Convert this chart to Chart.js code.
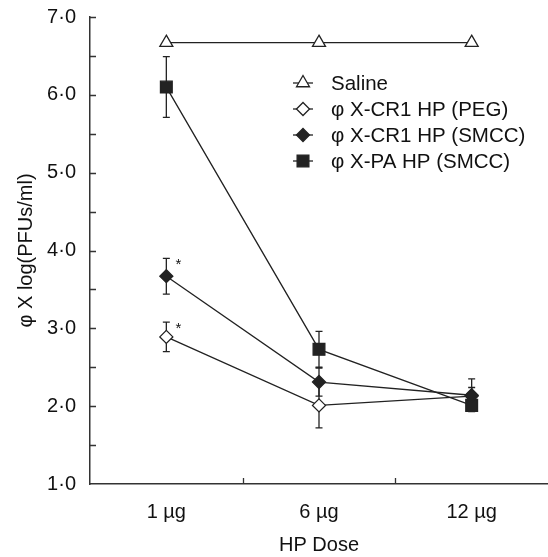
<!DOCTYPE html>
<html>
<head>
<meta charset="utf-8">
<script src="https://cdn.jsdelivr.net/npm/chart.js@4/dist/chart.umd.min.js"></script>
<style>
  html, body { margin: 0; padding: 0; background: #fff; }
</style>
</head>
<body>
<canvas id="myChart" width="548" height="557"></canvas>
<script>
const doses = ['1 µg', '6 µg', '12 µg'];
const seriesNames = ['Saline', 'φ X-CR1 HP (PEG)', 'φ X-CR1 HP (SMCC)', 'φ X-PA HP (SMCC)'];
const saline = [6.67, 6.67, 6.67];
const cr1Peg = [2.89, 2.01, 2.13];
const cr1PegErr = [0.19, 0.29, 0.11];
const cr1Smcc = [3.67, 2.31, 2.14];
const cr1SmccErr = [0.23, 0.18, 0.21];
const paSmcc = [6.10, 2.73, 2.01];
const paSmccErr = [0.39, 0.23, 0.05];
const starredPeg = [true, false, false];
const starredSmcc = [true, false, false];
const yMin = 1;
const yMax = 7;
const yStep = 0.5;

const ink = '#222';
const fontFam = '"Liberation Sans", Arial, sans-serif';

// error bars under the markers
const errorBars = {
    id: 'errorBars',
    beforeDatasetsDraw(chart) {
        const { ctx, scales: { x, y } } = chart;
        ctx.save();
        ctx.strokeStyle = ink;
        ctx.lineWidth = 1.3;
        chart.data.datasets.forEach(ds => {
            if (!ds.errors) return;
            ds.data.forEach((v, j) => {
                const e = ds.errors[j];
                if (!e) return;
                const px = x.getPixelForValue(j);
                const top = y.getPixelForValue(v + e);
                const bot = y.getPixelForValue(v - e);
                ctx.beginPath();
                ctx.moveTo(px, top); ctx.lineTo(px, bot);
                ctx.moveTo(px - 3.5, top); ctx.lineTo(px + 3.5, top);
                ctx.moveTo(px - 3.5, bot); ctx.lineTo(px + 3.5, bot);
                ctx.stroke();
            });
        });
        ctx.restore();
    },
    afterDatasetsDraw(chart) {
        const { ctx, scales: { x, y } } = chart;
        ctx.save();
        ctx.fillStyle = '#111';
        ctx.font = '15px ' + fontFam;
        ctx.textAlign = 'center';
        ctx.textBaseline = 'alphabetic';
        chart.data.datasets.forEach(ds => {
            if (!ds.stars) return;
            ds.stars.forEach((s, j) => {
                if (!s) return;
                const px = x.getPixelForValue(j) + 12;
                const py = y.getPixelForValue(ds.data[j] + ds.errors[j]) + 11;
                ctx.fillText('*', px, py);
            });
        });
        ctx.restore();
    }
};

// inward tick marks
const inTicks = {
    id: 'inTicks',
    afterDraw(chart) {
        const { ctx, chartArea, scales: { x, y } } = chart;
        ctx.save();
        ctx.strokeStyle = '#333';
        ctx.lineWidth = 1.3;
        ctx.beginPath();
        y.ticks.forEach(t => {
            if (t.value === yMin) return;
            const py = Math.round(y.getPixelForValue(t.value)) + 0.5;
            ctx.moveTo(chartArea.left, py);
            ctx.lineTo(chartArea.left + 6, py);
        });
        for (let j = 0; j < doses.length - 1; j++) {
            const px = Math.round((x.getPixelForValue(j) + x.getPixelForValue(j + 1)) / 2) + 0.5;
            ctx.moveTo(px, chartArea.bottom);
            ctx.lineTo(px, chartArea.bottom - 6);
        }
        ctx.stroke();
        ctx.restore();
    }
};

// legend inside the plot, top right
const innerLegend = {
    id: 'innerLegend',
    afterDraw(chart) {
        const ctx = chart.ctx;
        const x0 = 293, x1 = 313, tx = 331;
        let rowY = 83;
        ctx.save();
        chart.data.datasets.forEach(ds => {
            ctx.strokeStyle = ink;
            ctx.lineWidth = 1.3;
            ctx.beginPath();
            ctx.moveTo(x0, rowY);
            ctx.lineTo(x1, rowY);
            ctx.stroke();
            ctx.fillStyle = ds.pointBackgroundColor;
            ctx.strokeStyle = ink;
            ctx.lineWidth = 1.3;
            Chart.helpers.drawPoint(ctx, {
                pointStyle: ds.pointStyle,
                radius: ds.pointRadius,
                rotation: 0,
                borderWidth: 1.3
            }, (x0 + x1) / 2, rowY);
            ctx.fillStyle = '#111';
            ctx.font = '20.5px ' + fontFam;
            ctx.textAlign = 'left';
            ctx.textBaseline = 'middle';
            ctx.fillText(ds.label, tx, rowY + 1);
            rowY += 26;
        });
        ctx.restore();
    }
};

function series(label, data, errors, stars, style, radius, fill, order) {
    return {
        label: label,
        data: data,
        errors: errors,
        stars: stars,
        order: order,
        borderColor: ink,
        borderWidth: 1.3,
        pointStyle: style,
        pointRadius: radius,
        pointHoverRadius: radius,
        pointBackgroundColor: fill,
        pointBorderColor: ink,
        pointBorderWidth: 1.3,
        tension: 0,
        fill: false
    };
}

const ctx = document.getElementById('myChart').getContext('2d');
const myChart = new Chart(ctx, {
    type: 'line',
    data: {
        labels: doses,
        datasets: [
            series(seriesNames[0], saline, null, null, 'triangle', 7.5, '#fff', 3),
            series(seriesNames[1], cr1Peg, cr1PegErr, starredPeg, 'rectRot', 6.5, '#fff', 2),
            series(seriesNames[2], cr1Smcc, cr1SmccErr, starredSmcc, 'rectRot', 6.5, ink, 0),
            series(seriesNames[3], paSmcc, paSmccErr, null, 'rect', 8.3, ink, 1)
        ]
    },
    options: {
        responsive: false,
        devicePixelRatio: 1,
        animation: false,
        layout: { autoPadding: false, padding: { top: 17, right: 0, bottom: 0, left: 0 } },
        plugins: {
            legend: { display: false },
            tooltip: { enabled: false }
        },
        scales: {
            x: {
                offset: true,
                grid: { display: false, drawTicks: false },
                border: { display: true, color: '#333', width: 1.5 },
                ticks: {
                    color: '#111',
                    font: { family: fontFam, size: 20 },
                    padding: 16,
                    maxRotation: 0
                },
                title: {
                    display: true,
                    text: 'HP Dose',
                    color: '#111',
                    font: { family: fontFam, size: 20 },
                    padding: { top: 0, bottom: 0 }
                },
                afterFit(scale) { scale.height = 73; }
            },
            y: {
                min: yMin,
                max: yMax,
                grid: { display: false, drawTicks: false },
                border: { display: true, color: '#333', width: 1.5 },
                ticks: {
                    stepSize: yStep,
                    color: '#111',
                    font: { family: fontFam, size: 20 },
                    padding: 14,
                    callback: v => (Math.abs(v - Math.round(v)) < 1e-6) ? v.toFixed(1).replace('.', '·') : ''
                },
                title: {
                    display: true,
                    text: 'φ X log(PFUs/ml)',
                    color: '#111',
                    font: { family: fontFam, size: 20 },
                    padding: { top: 14, bottom: 0 }
                },
                afterFit(scale) {
                    scale.width = 90;
                    scale.paddingTop = 0;
                    scale.paddingBottom = 0;
                }
            }
        }
    },
    plugins: [errorBars, inTicks, innerLegend]
});
</script>
</body>
</html>
